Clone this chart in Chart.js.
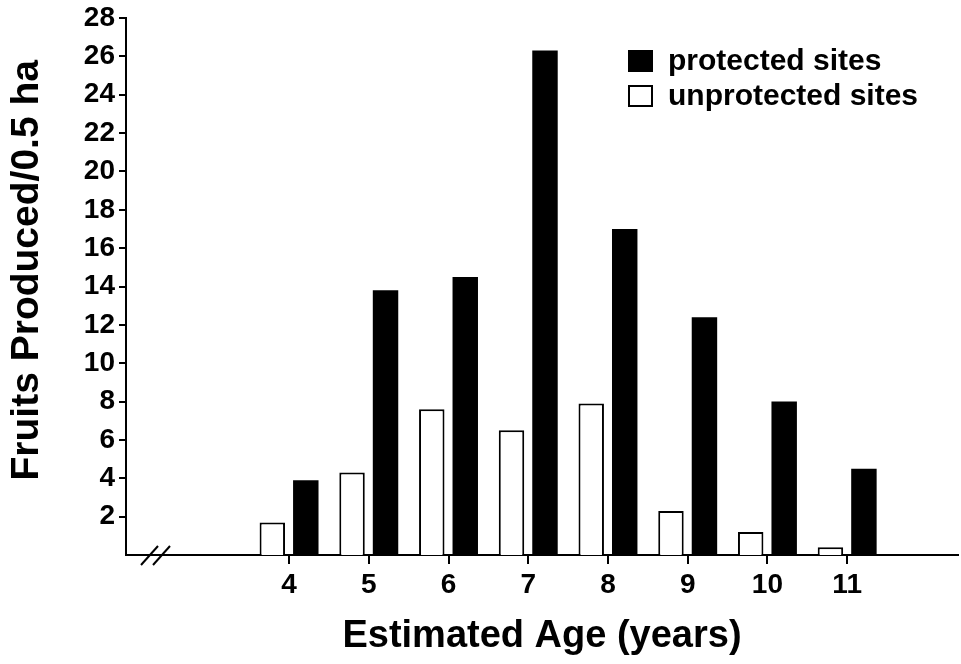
<!DOCTYPE html>
<html>
<head>
<meta charset="utf-8">
<script src="https://cdn.jsdelivr.net/npm/chart.js@4.4.1/dist/chart.umd.min.js"></script>
<style>
  html, body { margin: 0; padding: 0; background: #fff; }
  #wrap { width: 961px; height: 664px; }
</style>
</head>
<body>
<div id="wrap"><canvas id="chart"></canvas></div>
<script>
// valeurs
const ages = [4, 5, 6, 7, 8, 9, 10, 11];
const protectedSites = [3.9, 13.8, 14.5, 26.3, 17.0, 12.4, 8.0, 4.5];
const unprotectedSites = [1.7, 4.3, 7.6, 6.5, 7.9, 2.3, 1.2, 0.4];
const yTicks = [2, 4, 6, 8, 10, 12, 14, 16, 18, 20, 22, 24, 26, 28];

const FONT = "'Liberation Sans', Arial, Helvetica, sans-serif";

// legende dessinee dans la zone du graphe, en haut a droite
const legendPlugin = {
    id: 'insideLegend',
    afterDraw(chart) {
        const ctx = chart.ctx;
        const items = chart.data.datasets.slice().reverse();
        ctx.save();
        ctx.font = "bold 30px " + FONT;
        ctx.textBaseline = 'middle';
        items.forEach((ds, i) => {
            const y = 61 + i * 35;
            ctx.fillStyle = ds.backgroundColor;
            ctx.fillRect(629, y - 10, 23, 20);
            ctx.lineWidth = 2;
            ctx.strokeStyle = '#000';
            ctx.strokeRect(629, y - 10, 23, 20);
            ctx.fillStyle = '#000';
            ctx.fillText(ds.label, 668, y + 1);
        });
        ctx.restore();
    }
};

// coupure de l'axe des x (//)
const breakPlugin = {
    id: 'axisBreak',
    afterDraw(chart) {
        const ctx = chart.ctx;
        const y0 = chart.chartArea.bottom;
        ctx.save();
        ctx.strokeStyle = '#000';
        ctx.lineWidth = 2;
        [141, 153].forEach(x => {
            ctx.beginPath();
            ctx.moveTo(x, y0 + 10);
            ctx.lineTo(x + 17, y0 - 9);
            ctx.stroke();
        });
        ctx.restore();
    }
};

const ctx = document.getElementById('chart').getContext('2d');

const myChart = new Chart(ctx, {
    type: 'bar',
    data: {
        datasets: [{
            label: 'unprotected sites',
            data: ages.map((a, i) => ({ x: a, y: unprotectedSites[i] })),
            backgroundColor: '#ffffff',
            borderColor: '#000000',
            borderWidth: 2
        }, {
            label: 'protected sites',
            data: ages.map((a, i) => ({ x: a, y: protectedSites[i] })),
            backgroundColor: '#000000',
            borderColor: '#000000',
            borderWidth: 0
        }]
    },
    options: {
        responsive: true,
        maintainAspectRatio: false,
        animation: false,
        devicePixelRatio: 1,
        categoryPercentage: 0.84,
        barPercentage: 0.76,
        layout: { padding: { top: 17, right: 3, left: 0, bottom: 0 } },
        plugins: {
            legend: { display: false },
            tooltip: { enabled: false }
        },
        scales: {
            x: {
                type: 'linear',
                offset: false,
                min: 1.955,
                max: 12.39,
                afterBuildTicks: (scale) => { scale.ticks = ages.map(v => ({ value: v })); },
                afterFit: (scale) => { scale.height = 109; },
                grid: {
                    offset: false, drawOnChartArea: false, drawTicks: true, tickLength: 9,
                    color: '#000', lineWidth: 2, tickColor: '#000', tickWidth: 2
                },
                border: { display: true, color: '#000', width: 2 },
                ticks: {
                    color: '#000',
                    padding: 7,
                    maxRotation: 0,
                    font: { family: FONT, size: 28, weight: 'bold', lineHeight: 1 },
                    callback: (v) => String(v)
                },
                title: {
                    display: true,
                    text: 'Estimated Age (years)',
                    color: '#000',
                    font: { family: FONT, size: 38, weight: 'bold' },
                    padding: { top: 0, bottom: 5 }
                }
            },
            y: {
                min: 0,
                max: 28,
                afterBuildTicks: (scale) => { scale.ticks = yTicks.map(v => ({ value: v })); },
                afterFit: (scale) => { scale.width = 126; },
                grid: { drawOnChartArea: false, drawTicks: true, tickLength: 7, color: '#000', lineWidth: 2 },
                border: { display: true, color: '#000', width: 2 },
                ticks: {
                    color: '#000',
                    padding: 4,
                    font: { family: FONT, size: 28, weight: 'bold', lineHeight: 1 }
                },
                title: {
                    display: true,
                    text: '   Fruits Produced/0.5 ha',
                    color: '#000',
                    font: { family: FONT, size: 39, weight: 'bold' },
                    padding: { top: 4, bottom: 0 }
                }
            }
        }
    },
    plugins: [legendPlugin, breakPlugin]
});
</script>
</body>
</html>
